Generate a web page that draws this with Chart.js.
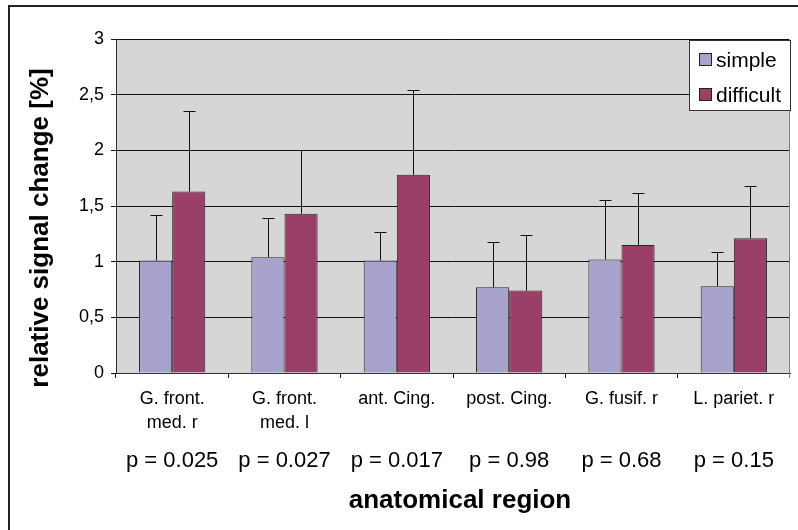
<!DOCTYPE html>
<html>
<head>
<meta charset="utf-8">
<script src="https://cdn.jsdelivr.net/npm/chart.js@4.4.1/dist/chart.umd.min.js"></script>
<style>
  html, body { margin: 0; padding: 0; background: #fff; }
  #wrap { width: 798px; height: 530px; }
</style>
</head>
<body>
<div id="wrap"><canvas id="chart" width="798" height="530"></canvas></div>
<script>
// data
const regions = [["G. front.", "med. r"], ["G. front.", "med. l"], "ant. Cing.", "post. Cing.", "G. fusif. r", "L. pariet. r"];
const pValues = ["p = 0.025", "p = 0.027", "p = 0.017", "p = 0.98", "p = 0.68", "p = 0.15"];
const simpleMean = [1.01, 1.04, 1.01, 0.77, 1.02, 0.78];
const simpleErr = [0.41, 0.35, 0.26, 0.41, 0.53, 0.31];
const difficultMean = [1.63, 1.43, 1.78, 0.74, 1.15, 1.21];
const difficultErr = [0.72, 0.57, 0.76, 0.50, 0.47, 0.47];
const yTicks = [0, 0.5, 1, 1.5, 2, 2.5, 3];

const FONT = "'Liberation Sans', Arial, sans-serif";
const errors = [simpleErr, difficultErr];

const frame = {
  id: "frame",
  beforeDraw(chart) {
    const { ctx, chartArea: a } = chart;
    ctx.save();
    ctx.fillStyle = "#d6d6d6";
    ctx.fillRect(a.left, a.top, a.right - a.left, a.bottom - a.top);
    // outer picture border (top and left only)
    ctx.fillStyle = "#222";
    ctx.fillRect(8, 5, 790, 2);
    ctx.fillRect(8, 5, 2, 525);
    ctx.restore();
  },
  afterDatasetsDraw(chart) {
    const { ctx, chartArea: a } = chart;
    const y = chart.scales.y;
    ctx.save();
    ctx.strokeStyle = "#111";
    ctx.lineWidth = 1;
    chart.data.datasets.forEach((ds, d) => {
      chart.getDatasetMeta(d).data.forEach((bar, i) => {
        const x = Math.round(bar.x) + 0.5;
        const top = Math.round(y.getPixelForValue(ds.data[i] + errors[d][i])) + 0.5;
        ctx.beginPath();
        ctx.moveTo(x, bar.y);
        ctx.lineTo(x, top);
        ctx.moveTo(x - 6, top);
        ctx.lineTo(x + 6, top);
        ctx.stroke();
      });
    });
    // right edge of plot area
    ctx.strokeStyle = "#808080";
    ctx.beginPath();
    ctx.moveTo(Math.round(a.right) - 0.5, a.top);
    ctx.lineTo(Math.round(a.right) - 0.5, a.bottom + 5);
    ctx.stroke();
    ctx.restore();
  },
  afterDraw(chart) {
    const { ctx } = chart;
    const x = chart.scales.x;
    ctx.save();
    ctx.fillStyle = "#000";
    ctx.textBaseline = "middle";

    // axis titles
    ctx.font = "bold 26px " + FONT;
    ctx.textAlign = "center";
    ctx.fillText("anatomical region", 460, 501);
    ctx.save();
    ctx.translate(41, 228);
    ctx.rotate(-Math.PI / 2);
    ctx.fillText("relative signal change [%]", 0, 0);
    ctx.restore();

    // p-values under the category labels
    ctx.font = "22px " + FONT;
    pValues.forEach((p, i) => ctx.fillText(p, x.getPixelForValue(i), 461));

    // legend box inside the plot
    ctx.fillStyle = "#fff";
    ctx.fillRect(689.5, 40.5, 101, 70);
    ctx.strokeStyle = "#333";
    ctx.lineWidth = 1;
    ctx.strokeRect(689.5, 40.5, 101, 70);
    ctx.font = "21px " + FONT;
    ctx.textAlign = "left";
    chart.data.datasets.forEach((ds, d) => {
      const cy = 60 + d * 35;
      ctx.fillStyle = ds.backgroundColor;
      ctx.fillRect(699.5, cy - 6.5, 12, 12);
      ctx.strokeStyle = "#222";
      ctx.strokeRect(699.5, cy - 6.5, 12, 12);
      ctx.fillStyle = "#000";
      ctx.fillText(ds.label, 716, cy + 1);
    });
    ctx.restore();
  }
};

new Chart(document.getElementById("chart"), {
  type: "bar",
  data: {
    labels: regions,
    datasets: [
      { label: "simple", data: simpleMean, backgroundColor: "#a7a3cd", borderColor: "#2a2a2a", borderWidth: 1 },
      { label: "difficult", data: difficultMean, backgroundColor: "#9a3f67", borderColor: "#2a2a2a", borderWidth: 1 }
    ]
  },
  options: {
    responsive: false,
    animation: false,
    layout: { padding: { top: 39, right: 8, left: 0, bottom: 0 } },
    datasets: { bar: { categoryPercentage: 0.59, barPercentage: 1.0 } },
    plugins: { legend: { display: false }, tooltip: { enabled: false } },
    scales: {
      x: {
        afterFit(s) { s.height = 157; },
        grid: { offset: true, drawOnChartArea: false, color: "#111", tickLength: 5 },
        border: { color: "#333", width: 1 },
        ticks: { color: "#000", padding: 9, font: { family: FONT, size: 18, lineHeight: 1.35 } }
      },
      y: {
        min: 0, max: 3,
        afterFit(s) { s.width = 116; },
        afterBuildTicks(s) { s.ticks = yTicks.map(v => ({ value: v })); },
        grid: { color: "#111", lineWidth: 1, tickLength: 5 },
        border: { color: "#333", width: 1 },
        ticks: {
          color: "#000", padding: 7,
          font: { family: FONT, size: 18 },
          callback: v => String(v).replace(".", ",")
        }
      }
    }
  },
  plugins: [frame]
});
</script>
</body>
</html>
